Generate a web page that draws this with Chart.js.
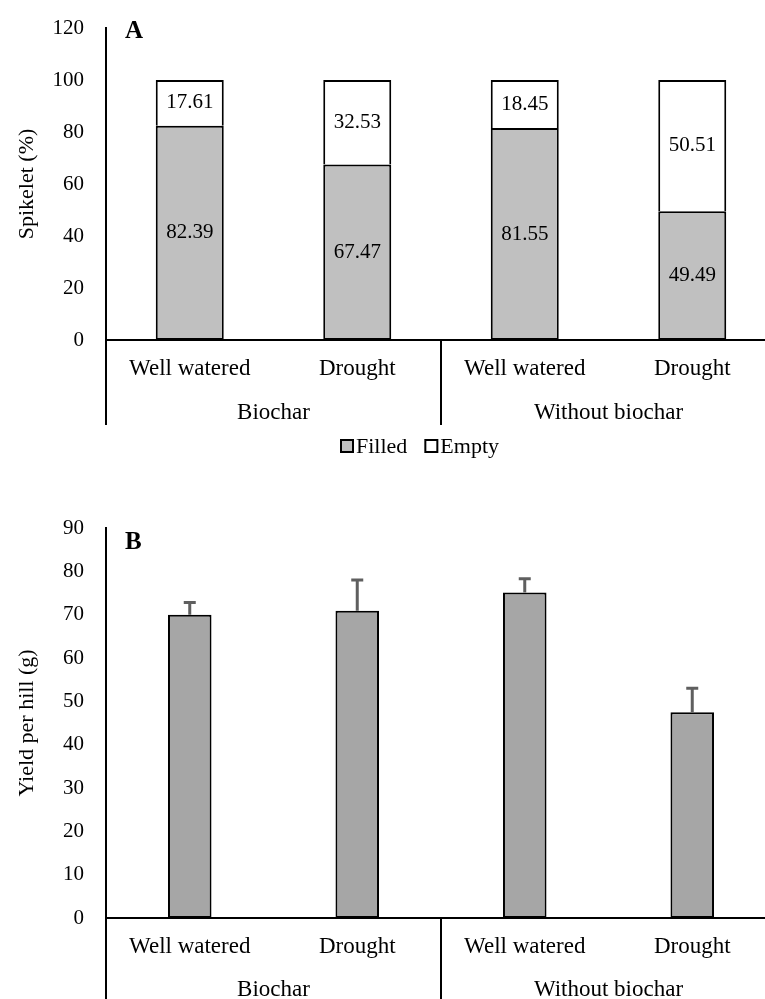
<!DOCTYPE html>
<html>
<head>
<meta charset="utf-8">
<script src="https://cdn.jsdelivr.net/npm/chart.js@4.4.1/dist/chart.umd.min.js"></script>
<style>
  body { margin:0; background:#fff; }
  .wrap { position:absolute; left:0; width:765px; overflow:hidden; }
  #boxA { top:0; height:467px; }
  #boxB { top:490px; height:509px; }
</style>
</head>
<body>
<div class="wrap" id="boxA"><canvas id="chartA" width="800" height="467"></canvas></div>
<div class="wrap" id="boxB"><canvas id="chartB" width="800" height="509"></canvas></div>
<script>
var categories = ['Well watered', 'Drought', 'Well watered', 'Drought'];
var groups = ['Biochar', 'Without biochar'];
var filled = [82.39, 67.47, 81.55, 49.49];
var empty = [17.61, 32.53, 18.45, 50.51];
var yieldMean = [70.0, 70.9, 75.1, 47.5];
var yieldErr = [2.8, 7.1, 3.2, 5.5];

var serif = "'Liberation Serif', 'Times New Roman', serif";
Chart.defaults.font.family = serif;
Chart.defaults.color = '#000';
Chart.defaults.animation = false;

// second row of the category axis, panel letter, legend and bar decorations
var extras = {
  id: 'extras',
  afterDraw: function(chart, args, opts) {
    var ctx = chart.ctx, x = chart.scales.x, y = chart.scales.y, area = chart.chartArea;
    ctx.save();
    ctx.strokeStyle = '#000';
    ctx.lineWidth = 2;
    var step = x.getPixelForValue(1) - x.getPixelForValue(0);
    // separators
    var seps = [area.left];
    for (var g = 1; g < groups.length; g++) seps.push(x.getPixelForValue(g * 2) - step / 2);
    seps.forEach(function(px) {
      ctx.beginPath();
      ctx.moveTo(px, area.bottom);
      ctx.lineTo(px, area.bottom + opts.lineLength);
      ctx.stroke();
    });
    // group names
    ctx.fillStyle = '#000';
    ctx.font = '23px ' + serif;
    ctx.textAlign = 'center';
    ctx.textBaseline = 'middle';
    groups.forEach(function(name, i) {
      var cx = (x.getPixelForValue(i * 2) + x.getPixelForValue(i * 2 + 1)) / 2;
      ctx.fillText(name, cx, area.bottom + opts.groupOffset);
    });
    // panel letter
    ctx.font = 'bold 25px ' + serif;
    ctx.textAlign = 'left';
    ctx.fillText(opts.letter, area.left + 19, area.top + opts.letterDy);

    // value labels inside stacked segments
    if (opts.valueLabels) {
      ctx.font = '21px ' + serif;
      ctx.textAlign = 'center';
      chart.data.datasets.forEach(function(ds, di) {
        chart.getDatasetMeta(di).data.forEach(function(bar, i) {
          var p = bar.getProps(['x', 'y', 'base'], true);
          ctx.fillText(ds.data[i].toFixed(2), p.x, (p.y + p.base) / 2);
        });
      });
    }

    // error bars
    if (opts.errors) {
      ctx.strokeStyle = '#5f5f5f';
      ctx.lineWidth = 3;
      chart.getDatasetMeta(0).data.forEach(function(bar, i) {
        var p = bar.getProps(['x', 'y'], true);
        var top = y.getPixelForValue(chart.data.datasets[0].data[i] + opts.errors[i]);
        ctx.beginPath();
        ctx.moveTo(p.x, p.y);
        ctx.lineTo(p.x, top);
        ctx.moveTo(p.x - 6, top);
        ctx.lineTo(p.x + 6, top);
        ctx.stroke();
      });
    }

    // legend
    if (opts.legend) {
      ctx.font = '22px ' + serif;
      ctx.textAlign = 'left';
      var items = chart.data.datasets;
      var widths = items.map(function(ds) { return 15 + ctx.measureText(ds.label).width; });
      var total = widths.reduce(function(a, b) { return a + b; }, 0) + 18 * (items.length - 1);
      var lx = opts.legendCenter - total / 2;
      var ly = area.bottom + opts.legendOffset;
      items.forEach(function(ds, i) {
        ctx.fillStyle = ds.backgroundColor;
        ctx.fillRect(lx, ly - 6, 12, 12);
        ctx.strokeStyle = '#000';
        ctx.lineWidth = 2;
        ctx.strokeRect(lx, ly - 6, 12, 12);
        ctx.fillStyle = '#000';
        ctx.fillText(ds.label, lx + 15, ly + 1);
        lx += widths[i] + 18;
      });
    }
    ctx.restore();
  }
};

function xAxis(height) {
  return {
    grid: { display: false, drawTicks: false },
    border: { color: '#000', width: 2 },
    ticks: { font: { size: 23 }, padding: 15, maxRotation: 0, autoSkip: false },
    afterFit: function(s) { s.height = height; }
  };
}
function yAxis(max, step, title) {
  return {
    min: 0, max: max,
    grid: { display: false, drawTicks: false },
    border: { color: '#000', width: 2 },
    ticks: { stepSize: step, font: { size: 21 }, padding: 22 },
    title: { display: true, text: title, font: { size: 22 }, padding: { top: 14 } },
    afterFit: function(s) { s.width = 106; s.paddingTop = 10; s.paddingBottom = 10; }
  };
}

var scalesA = { x: xAxis(127), y: yAxis(120, 20, 'Spikelet (%)') };
scalesA.x.stacked = true;
scalesA.y.stacked = true;

new Chart(document.getElementById('chartA'), {
  type: 'bar',
  data: {
    labels: categories,
    datasets: [
      { label: 'Filled', data: filled, backgroundColor: '#c0c0c0', borderColor: '#000', borderWidth: 2, borderSkipped: false },
      { label: 'Empty', data: empty, backgroundColor: '#ffffff', borderColor: '#000', borderWidth: 2, borderSkipped: 'bottom' }
    ]
  },
  options: {
    responsive: false,
    layout: { padding: { top: 28, right: 24, left: 0, bottom: 0 } },
    datasets: { bar: { categoryPercentage: 1, barPercentage: 0.406 } },
    plugins: {
      legend: { display: false },
      tooltip: { enabled: false },
      extras: { lineLength: 85, groupOffset: 73, letter: 'A', letterDy: 4, valueLabels: true, legend: true, legendCenter: 420, legendOffset: 106 }
    },
    scales: scalesA
  },
  plugins: [extras]
});

new Chart(document.getElementById('chartB'), {
  type: 'bar',
  data: {
    labels: categories,
    datasets: [
      { label: 'Yield', data: yieldMean, backgroundColor: '#a6a6a6', borderColor: '#000', borderWidth: 2, borderSkipped: false }
    ]
  },
  options: {
    responsive: false,
    layout: { padding: { top: 38, right: 24, left: 0, bottom: 0 } },
    datasets: { bar: { categoryPercentage: 1, barPercentage: 0.26 } },
    plugins: {
      legend: { display: false },
      tooltip: { enabled: false },
      extras: { lineLength: 90, groupOffset: 72, letter: 'B', letterDy: 15, errors: yieldErr }
    },
    scales: { x: xAxis(81), y: yAxis(90, 10, 'Yield per hill (g)') }
  },
  plugins: [extras]
});
</script>
</body>
</html>
